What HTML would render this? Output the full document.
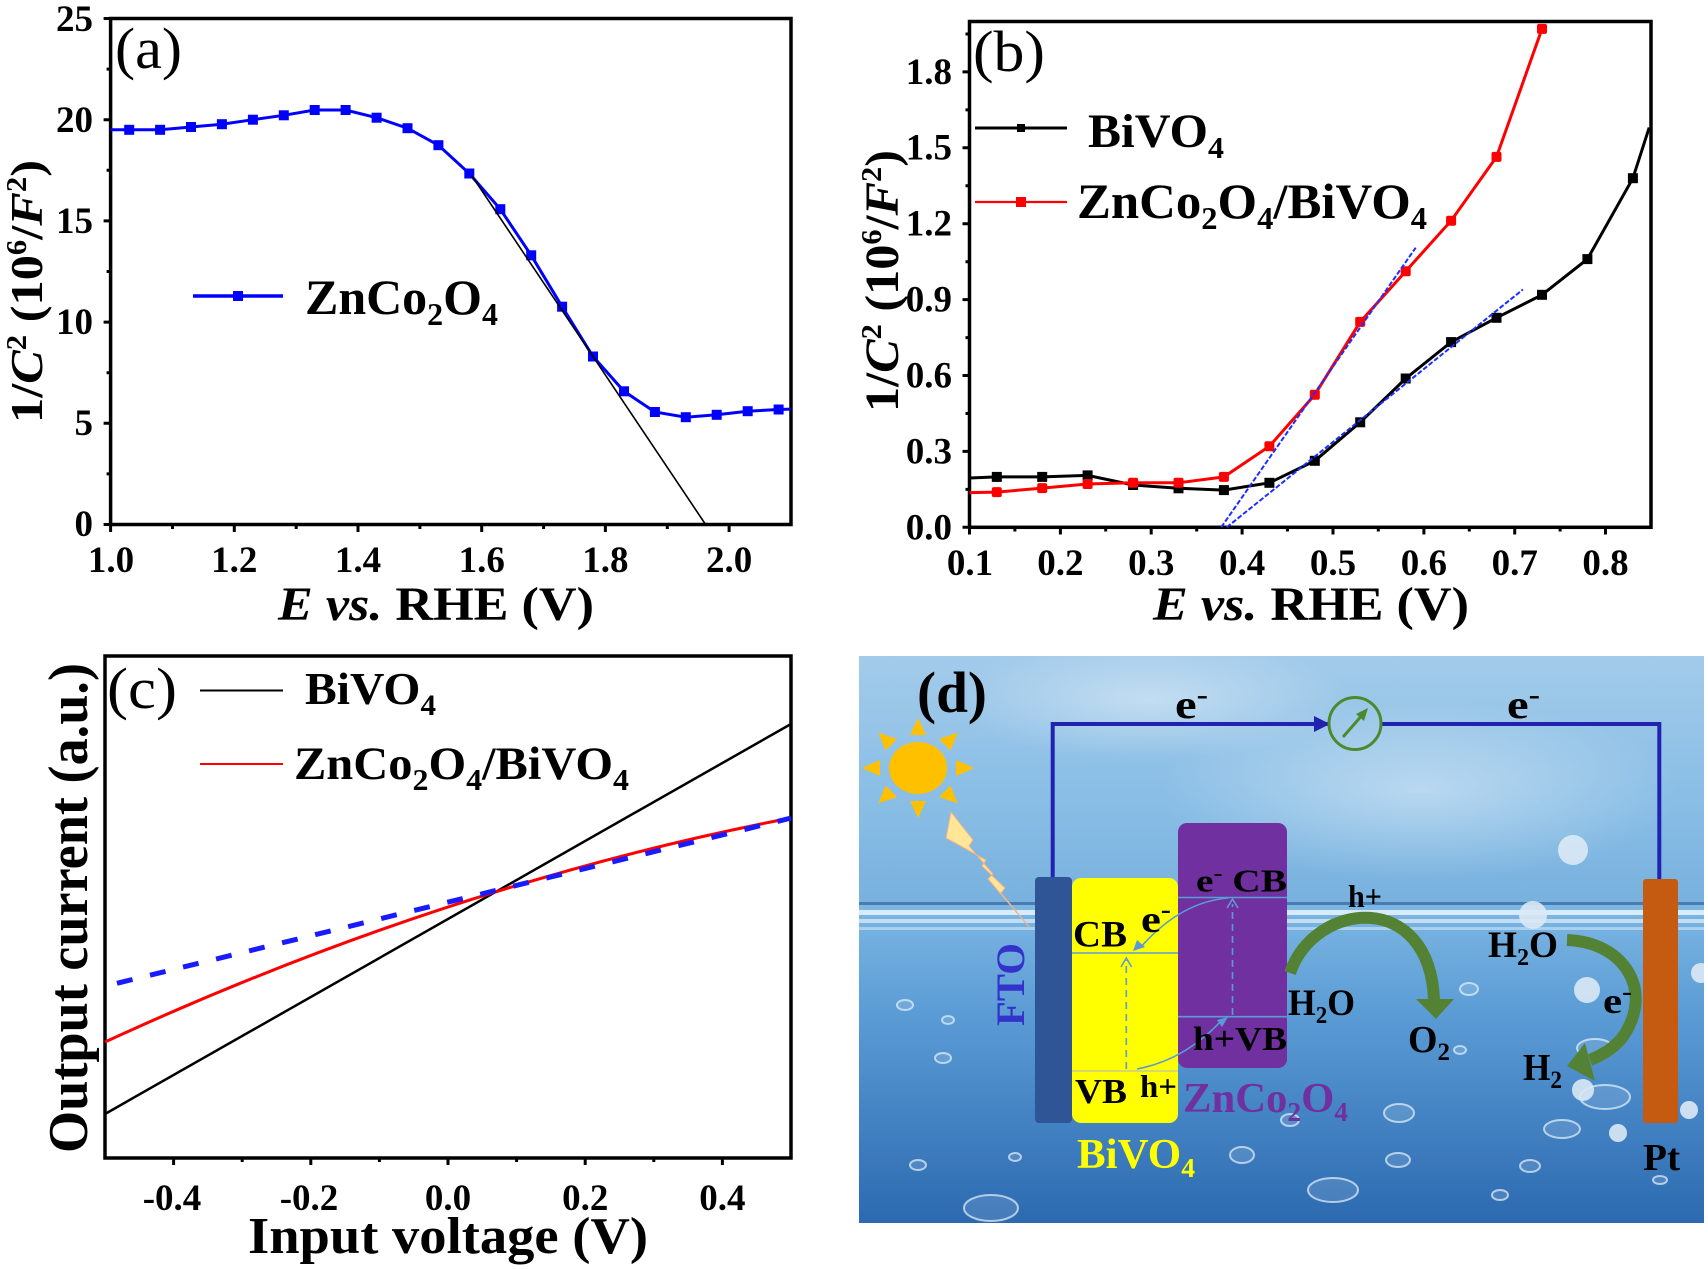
<!DOCTYPE html>
<html><head><meta charset="utf-8"><style>
html,body{margin:0;padding:0;background:#fff;}
svg{display:block;}
</style></head><body>
<svg width="1708" height="1270" viewBox="0 0 1708 1270" xmlns="http://www.w3.org/2000/svg" font-family="'Liberation Serif', serif" font-weight="bold">
<defs>
  <linearGradient id="sky" x1="0" y1="0" x2="0" y2="1">
    <stop offset="0" stop-color="#a3cbea"/>
    <stop offset="0.6" stop-color="#88bde5"/>
    <stop offset="1" stop-color="#78b1de"/>
  </linearGradient>
  <linearGradient id="water" x1="0" y1="0" x2="0" y2="1">
    <stop offset="0" stop-color="#7db7e3"/>
    <stop offset="0.35" stop-color="#5a9bd5"/>
    <stop offset="1" stop-color="#2c69b0"/>
  </linearGradient>
  <radialGradient id="glow" cx="0.5" cy="0.5" r="0.5">
    <stop offset="0" stop-color="#ffffff" stop-opacity="0.4"/>
    <stop offset="1" stop-color="#ffffff" stop-opacity="0"/>
  </radialGradient>
  <clipPath id="dclip"><rect x="859" y="656" width="845" height="567"/></clipPath>
</defs>
<rect width="1708" height="1270" fill="#fff"/>

<!-- ================= PANEL (a) ================= -->
<rect x="110.6" y="18.5" width="680.4" height="506" fill="none" stroke="#000" stroke-width="3.5"/>
<path d="M103.6,524.5H110.6 M106.6,473.9H110.6 M103.6,423.3H110.6 M106.6,372.7H110.6 M103.6,322.1H110.6 M106.6,271.5H110.6 M103.6,220.9H110.6 M106.6,170.3H110.6 M103.6,119.7H110.6 M106.6,69.1H110.6 M103.6,18.5H110.6
M110.6,524.5V532 M172.5,524.5V529 M234.3,524.5V532 M296.2,524.5V529 M358,524.5V532 M419.9,524.5V529 M481.7,524.5V532 M543.6,524.5V529 M605.4,524.5V532 M667.3,524.5V529 M729.1,524.5V532" stroke="#000" stroke-width="3" fill="none"/>
<g font-size="37" text-anchor="end">
  <text x="93" y="536">0</text>
  <text x="93" y="435">5</text>
  <text x="93" y="334">10</text>
  <text x="93" y="233">15</text>
  <text x="93" y="132">20</text>
  <text x="93" y="31">25</text>
</g>
<g font-size="37" text-anchor="middle">
  <text x="111" y="572">1.0</text>
  <text x="234.3" y="572">1.2</text>
  <text x="358" y="572">1.4</text>
  <text x="481.7" y="572">1.6</text>
  <text x="605.4" y="572">1.8</text>
  <text x="729.1" y="572">2.0</text>
</g>
<text x="278" y="620" font-size="48" textLength="316" lengthAdjust="spacingAndGlyphs"><tspan font-style="italic">E vs.</tspan> RHE (V)</text>
<text transform="translate(42,423) rotate(-90)" font-size="46" textLength="263" lengthAdjust="spacingAndGlyphs">1/<tspan font-style="italic">C</tspan><tspan font-size="28" dy="-16">2</tspan><tspan dy="16"> (10</tspan><tspan font-size="28" dy="-16">6</tspan><tspan dy="16">/</tspan><tspan font-style="italic">F</tspan><tspan font-size="28" dy="-16">2</tspan><tspan dy="16">)</tspan></text>
<text x="115" y="68" font-size="58" font-weight="normal" textLength="67" lengthAdjust="spacingAndGlyphs">(a)</text>
<!-- legend a -->
<line x1="193" y1="296" x2="283" y2="296" stroke="#0000ff" stroke-width="3.5"/>
<rect x="233" y="291" width="10" height="10" fill="#0000ff"/>
<text x="305" y="314" font-size="50" textLength="193" lengthAdjust="spacingAndGlyphs">ZnCo<tspan font-size="32" dy="11">2</tspan><tspan dy="-11">O</tspan><tspan font-size="32" dy="11">4</tspan></text>
<!-- data a -->
<polyline fill="none" stroke="#0000ff" stroke-width="3" points="110.6,129.8 129.2,129.8 160.1,129.8 191.0,127.0 221.9,124.2 252.9,119.7 283.8,115.3 314.7,110.0 345.6,110.0 376.6,117.7 407.5,128.2 438.4,145.2 469.3,173.5 500.3,209.2 531.2,255.3 562.1,306.7 593.0,356.5 624.0,391.3 654.9,412.0 685.8,417.2 716.7,414.8 747.7,411.2 778.6,409.5 791,409.1"/>
<g fill="#0000ff">
<rect x="124.2" y="124.8" width="10" height="10"/><rect x="155.1" y="124.8" width="10" height="10"/><rect x="186" y="122" width="10" height="10"/><rect x="216.9" y="119.2" width="10" height="10"/><rect x="247.9" y="114.7" width="10" height="10"/><rect x="278.8" y="110.3" width="10" height="10"/><rect x="309.7" y="105" width="10" height="10"/><rect x="340.6" y="105" width="10" height="10"/><rect x="371.6" y="112.7" width="10" height="10"/><rect x="402.5" y="123.2" width="10" height="10"/><rect x="433.4" y="140.2" width="10" height="10"/><rect x="464.3" y="168.5" width="10" height="10"/><rect x="495.3" y="204.2" width="10" height="10"/><rect x="526.2" y="250.3" width="10" height="10"/><rect x="557.1" y="301.7" width="10" height="10"/><rect x="588" y="351.5" width="10" height="10"/><rect x="619" y="386.3" width="10" height="10"/><rect x="649.9" y="407" width="10" height="10"/><rect x="680.8" y="412.2" width="10" height="10"/><rect x="711.7" y="409.8" width="10" height="10"/><rect x="742.7" y="406.2" width="10" height="10"/><rect x="773.6" y="404.5" width="10" height="10"/>
</g>
<line x1="472" y1="176" x2="705.6" y2="524.5" stroke="#000" stroke-width="1.6"/>

<!-- ================= PANEL (b) ================= -->
<rect x="969.5" y="21.5" width="681.5" height="505.8" fill="none" stroke="#000" stroke-width="3.5"/>
<path d="M962.5,527.3H969.5 M965.5,489.4H969.5 M962.5,451.4H969.5 M965.5,413.5H969.5 M962.5,375.5H969.5 M965.5,337.6H969.5 M962.5,299.6H969.5 M965.5,261.7H969.5 M962.5,223.7H969.5 M965.5,185.8H969.5 M962.5,147.8H969.5 M965.5,109.9H969.5 M962.5,71.9H969.5 M965.5,34H969.5
M969.5,527.3V534.5 M1014.9,527.3V531.5 M1060.4,527.3V534.5 M1105.7,527.3V531.5 M1151.2,527.3V534.5 M1196.7,527.3V531.5 M1242.1,527.3V534.5 M1287.5,527.3V531.5 M1333,527.3V534.5 M1378.3,527.3V531.5 M1423.9,527.3V534.5 M1469.3,527.3V531.5 M1514.7,527.3V534.5 M1560.1,527.3V531.5 M1605.5,527.3V534.5" stroke="#000" stroke-width="3" fill="none"/>
<g font-size="37" text-anchor="end">
  <text x="952" y="539.5">0.0</text>
  <text x="952" y="463.5">0.3</text>
  <text x="952" y="387.5">0.6</text>
  <text x="952" y="311.5">0.9</text>
  <text x="952" y="235.5">1.2</text>
  <text x="952" y="159.5">1.5</text>
  <text x="952" y="84">1.8</text>
</g>
<g font-size="37" text-anchor="middle">
  <text x="970" y="575">0.1</text>
  <text x="1060.4" y="575">0.2</text>
  <text x="1151.2" y="575">0.3</text>
  <text x="1242.1" y="575">0.4</text>
  <text x="1333" y="575">0.5</text>
  <text x="1423.9" y="575">0.6</text>
  <text x="1514.7" y="575">0.7</text>
  <text x="1605.5" y="575">0.8</text>
</g>
<text x="1153" y="620" font-size="48" textLength="316" lengthAdjust="spacingAndGlyphs"><tspan font-style="italic">E vs.</tspan> RHE (V)</text>
<text transform="translate(898,412) rotate(-90)" font-size="48" textLength="262" lengthAdjust="spacingAndGlyphs">1/<tspan font-style="italic">C</tspan><tspan font-size="29" dy="-17">2</tspan><tspan dy="17"> (10</tspan><tspan font-size="29" dy="-17">6</tspan><tspan dy="17">/</tspan><tspan font-style="italic">F</tspan><tspan font-size="29" dy="-17">2</tspan><tspan dy="17">)</tspan></text>
<text x="973" y="71" font-size="58" font-weight="normal" textLength="72" lengthAdjust="spacingAndGlyphs">(b)</text>
<!-- legend b -->
<line x1="975" y1="128" x2="1067" y2="128" stroke="#000" stroke-width="3"/>
<rect x="1017" y="124" width="8" height="8" fill="#000"/>
<text x="1088" y="147" font-size="48" textLength="136" lengthAdjust="spacingAndGlyphs">BiVO<tspan font-size="31" dy="11">4</tspan></text>
<line x1="975" y1="202" x2="1067" y2="202" stroke="#ff0000" stroke-width="2.2"/>
<rect x="1016" y="197" width="10" height="10" fill="#ff0000"/>
<text x="1077" y="218" font-size="50" textLength="350" lengthAdjust="spacingAndGlyphs">ZnCo<tspan font-size="32" dy="11">2</tspan><tspan dy="-11">O</tspan><tspan font-size="32" dy="11">4</tspan><tspan dy="-11">/BiVO</tspan><tspan font-size="32" dy="11">4</tspan></text>
<!-- data b -->
<polyline fill="none" stroke="#000" stroke-width="3" points="969.5,478 996.8,476.9 1042.2,476.9 1087.6,475.4 1133.1,485 1178.5,488.3 1223.9,490.1 1269.4,482.8 1314.8,460.8 1360.2,422.3 1405.7,378.5 1451.1,342.1 1496.5,317.8 1542,294.8 1587.4,259.1 1632.9,178.2 1649.2,127.6"/>
<g fill="#000">
<rect x="991.8" y="471.9" width="10" height="10"/><rect x="1037.2" y="471.9" width="10" height="10"/><rect x="1082.6" y="470.4" width="10" height="10"/><rect x="1128.1" y="480" width="10" height="10"/><rect x="1173.5" y="483.3" width="10" height="10"/><rect x="1218.9" y="485.1" width="10" height="10"/><rect x="1264.4" y="477.8" width="10" height="10"/><rect x="1309.8" y="455.8" width="10" height="10"/><rect x="1355.2" y="417.3" width="10" height="10"/><rect x="1400.7" y="373.5" width="10" height="10"/><rect x="1446.1" y="337.1" width="10" height="10"/><rect x="1491.5" y="312.8" width="10" height="10"/><rect x="1537" y="289.8" width="10" height="10"/><rect x="1582.4" y="254.1" width="10" height="10"/><rect x="1627.9" y="173.2" width="10" height="10"/>
</g>
<polyline fill="none" stroke="#ff0000" stroke-width="3" points="969.5,492.6 996.8,492.1 1042.2,488.1 1087.6,484 1133.1,482.8 1178.5,482.8 1223.9,476.9 1269.4,446.3 1314.8,394.7 1360.2,321.9 1405.7,271.3 1451.1,220.7 1496.5,156.9 1542,28.9"/>
<g fill="#ff0000">
<rect x="991.8" y="487.1" width="10" height="10" rx="2"/><rect x="1037.2" y="483.1" width="10" height="10" rx="2"/><rect x="1082.6" y="479" width="10" height="10" rx="2"/><rect x="1128.1" y="477.8" width="10" height="10" rx="2"/><rect x="1173.5" y="477.8" width="10" height="10" rx="2"/><rect x="1218.9" y="471.9" width="10" height="10" rx="2"/><rect x="1264.4" y="441.3" width="10" height="10" rx="2"/><rect x="1309.8" y="389.7" width="10" height="10" rx="2"/><rect x="1355.2" y="316.9" width="10" height="10" rx="2"/><rect x="1400.7" y="266.3" width="10" height="10" rx="2"/><rect x="1446.1" y="215.7" width="10" height="10" rx="2"/><rect x="1491.5" y="151.9" width="10" height="10" rx="2"/><rect x="1537" y="23.9" width="10" height="10" rx="2"/>
</g>
<g stroke="#1a2fff" stroke-width="2" stroke-dasharray="5 2" fill="none">
<line x1="1221.2" y1="527.3" x2="1415.7" y2="247.7"/>
<line x1="1226.7" y1="527.3" x2="1522.9" y2="289.5"/>
</g>

<!-- ================= PANEL (c) ================= -->
<rect x="105" y="656" width="686" height="502" fill="none" stroke="#000" stroke-width="3.5"/>
<path d="M173.6,1158V1165 M242.2,1158V1162 M310.8,1158V1165 M379.4,1158V1162 M448,1158V1165 M516.6,1158V1162 M585.2,1158V1165 M653.8,1158V1162 M722.4,1158V1165" stroke="#000" stroke-width="3" fill="none"/>
<g font-size="37" text-anchor="middle">
  <text x="172" y="1210">-0.4</text>
  <text x="309" y="1210">-0.2</text>
  <text x="448" y="1210">0.0</text>
  <text x="585.2" y="1210">0.2</text>
  <text x="722.4" y="1210">0.4</text>
</g>
<text x="248" y="1253" font-size="52" textLength="400" lengthAdjust="spacingAndGlyphs">Input voltage (V)</text>
<text transform="translate(87,1153) rotate(-90)" font-size="56" textLength="490" lengthAdjust="spacingAndGlyphs">Output current (a.u.)</text>
<text x="107" y="708" font-size="58" font-weight="normal" textLength="70" lengthAdjust="spacingAndGlyphs">(c)</text>
<line x1="200" y1="690.5" x2="283" y2="690.5" stroke="#000" stroke-width="2"/>
<text x="305" y="704" font-size="46" textLength="131" lengthAdjust="spacingAndGlyphs">BiVO<tspan font-size="30" dy="11">4</tspan></text>
<line x1="200" y1="764" x2="283" y2="764" stroke="#ff0000" stroke-width="2"/>
<text x="294" y="779" font-size="47" textLength="335" lengthAdjust="spacingAndGlyphs">ZnCo<tspan font-size="31" dy="11">2</tspan><tspan dy="-11">O</tspan><tspan font-size="31" dy="11">4</tspan><tspan dy="-11">/BiVO</tspan><tspan font-size="31" dy="11">4</tspan></text>
<line x1="105" y1="1114" x2="791" y2="724" stroke="#000" stroke-width="2.5"/>
<path d="M105,1042 Q448,884 791,818" fill="none" stroke="#ff0000" stroke-width="3"/>
<line x1="117" y1="983.3" x2="791" y2="818.1" stroke="#1a1aff" stroke-width="5" stroke-dasharray="16 18"/>

<!-- ================= PANEL (d) ================= -->
<g clip-path="url(#dclip)">
  <rect x="859" y="656" width="845" height="250" fill="url(#sky)"/>
  <ellipse cx="1420" cy="790" rx="260" ry="90" fill="url(#glow)"/>
  <ellipse cx="1150" cy="700" rx="200" ry="60" fill="url(#glow)"/>
  <rect x="859" y="905" width="845" height="320" fill="url(#water)"/>
  <rect x="859" y="902" width="845" height="3" fill="#3d6fa6" opacity="0.8"/>
  <rect x="859" y="910" width="845" height="5" fill="#e9f5fd" opacity="0.85"/>
  <rect x="859" y="919" width="845" height="4" fill="#e9f5fd" opacity="0.65"/>
  <rect x="859" y="927" width="845" height="3" fill="#dff0fb" opacity="0.5"/>
  <!-- water drops -->
  <g fill="#ffffff" fill-opacity="0.12" stroke="#e6f2fb" stroke-opacity="0.7" stroke-width="2">
    <ellipse cx="991" cy="1208" rx="27" ry="13"/>
    <ellipse cx="1242" cy="1155" rx="12" ry="8"/>
    <ellipse cx="1333" cy="1190" rx="25" ry="12"/>
    <ellipse cx="1399" cy="1113" rx="15" ry="9"/>
    <ellipse cx="1469" cy="989" rx="9" ry="6"/>
    <ellipse cx="1398" cy="1160" rx="12" ry="7"/>
    <ellipse cx="1605" cy="1097" rx="25" ry="12"/>
    <ellipse cx="1562" cy="1129" rx="18" ry="9"/>
    <ellipse cx="1595" cy="1048" rx="18" ry="9"/>
    <ellipse cx="1530" cy="1166" rx="10" ry="6"/>
    <ellipse cx="943" cy="1058" rx="8" ry="5"/>
    <ellipse cx="918" cy="1165" rx="8" ry="5"/>
    <ellipse cx="1015" cy="1157" rx="6" ry="4"/>
    <ellipse cx="905" cy="1005" rx="8" ry="5"/>
    <ellipse cx="948" cy="1020" rx="6" ry="4"/>
    <ellipse cx="1290" cy="1120" rx="9" ry="6"/>
    <ellipse cx="1460" cy="1050" rx="6" ry="4"/>
    <ellipse cx="1500" cy="1195" rx="8" ry="5"/>
    <ellipse cx="1660" cy="1180" rx="7" ry="4"/>
  </g>
  <g fill="#dbe9f5" opacity="0.9">
    <circle cx="1573" cy="850" r="15"/>
    <circle cx="1533" cy="915" r="14"/>
    <circle cx="1587" cy="990" r="13"/>
    <circle cx="1583" cy="1090" r="11"/>
    <circle cx="1618" cy="1133" r="9"/>
    <circle cx="1689" cy="1110" r="9"/>
    <circle cx="1701" cy="973" r="10"/>
  </g>
  <!-- sun -->
  <g fill="#FFC000">
    <ellipse cx="918" cy="768" rx="29" ry="26"/>
    <polygon points="974,768 956,760 956,776"/>
    <polygon points="862,768 880,760 880,776"/>
    <polygon points="918,818 910,801 926,801"/>
    <polygon points="918,718 910,735 926,735"/>
    <polygon points="957.7,803.4 939,797 950.4,785.6"/>
    <polygon points="878.3,803.4 897,797 885.6,785.6"/>
    <polygon points="878.3,732.6 885.6,750.4 897,739"/>
    <polygon points="957.7,732.6 939,739 950.4,750.4"/>
  </g>
  <polygon points="951,812 973,840 969,846 993,874 988,879 1030,928 1001,893 1005,888 982,866 986,860 946,838" fill="#FFE699" stroke="#F4B183" stroke-width="1"/>
  <!-- circuit -->
  <path d="M1052.7,878 V724 H1329 M1381,724 H1659.3 V879" fill="none" stroke="#2222b0" stroke-width="4"/>
  <polygon points="1314,716 1330,724 1314,732" fill="#2222b0"/>
  <circle cx="1355" cy="723.5" r="26" fill="none" stroke="#4d8a2e" stroke-width="3"/>
  <line x1="1343" y1="737" x2="1364" y2="713" stroke="#4d8a2e" stroke-width="3"/>
  <polygon points="1368,708 1356,714 1364,721" fill="#4d8a2e"/>
  <text x="1175" y="718" font-size="40" textLength="33" lengthAdjust="spacingAndGlyphs">e<tspan dy="-14" font-size="28">-</tspan></text>
  <text x="1507" y="718" font-size="40" textLength="33" lengthAdjust="spacingAndGlyphs">e<tspan dy="-14" font-size="28">-</tspan></text>
  <!-- electrodes -->
  <rect x="1035" y="877" width="37" height="246" rx="4" fill="#2F5597"/>
  <rect x="1072" y="878" width="106" height="245" rx="9" fill="#FFFF00"/>
  <rect x="1178" y="823" width="109" height="245" rx="9" fill="#7030A0"/>
  <rect x="1643" y="879" width="35" height="244" rx="3" fill="#C55A11"/>
  <text transform="translate(1024,1026) rotate(-90)" font-size="40" fill="#3333cc" textLength="83" lengthAdjust="spacingAndGlyphs">FTO</text>
  <!-- band lines -->
  <g stroke="#5B9BD5" stroke-width="1.6" fill="none">
    <line x1="1072" y1="953" x2="1178" y2="953"/>
    <line x1="1178" y1="897.5" x2="1287" y2="897.5"/>
    <line x1="1178" y1="1016.7" x2="1287" y2="1016.7"/>
    <line x1="1126.3" y1="1069" x2="1126.3" y2="960" stroke-dasharray="7 5"/>
    <line x1="1232.5" y1="1015" x2="1232.5" y2="904" stroke-dasharray="7 5"/>
    <polyline points="1121,967 1126.3,958 1131.6,967"/>
    <polyline points="1227,908 1232.5,899 1238,908"/>
    <path d="M1228,898 Q1180,902 1140,948"/>
    <path d="M1137,1069 Q1185,1060 1222,1020"/>
  </g>
  <line x1="1072" y1="1071" x2="1178" y2="1071" stroke="#d8d86a" stroke-width="2"/>
  <polygon points="1133,951 1137,940 1145,947" fill="#5B9BD5"/>
  <polygon points="1228,1017 1217,1020 1222,1027" fill="#5B9BD5"/>
  <!-- labels in bands -->
  <text x="1073" y="946.7" font-size="37" textLength="54" lengthAdjust="spacingAndGlyphs">CB</text>
  <text x="1141" y="932" font-size="38" textLength="30" lengthAdjust="spacingAndGlyphs">e<tspan dy="-14" font-size="26">-</tspan></text>
  <text x="1196" y="891.7" font-size="32" textLength="91" lengthAdjust="spacingAndGlyphs">e<tspan dy="-11" font-size="22">-</tspan><tspan dy="11"> CB</tspan></text>
  <text x="1193" y="1050" font-size="34" textLength="94" lengthAdjust="spacingAndGlyphs">h+VB</text>
  <text x="1075" y="1103" font-size="35" textLength="52" lengthAdjust="spacingAndGlyphs">VB</text>
  <text x="1140" y="1097" font-size="32" textLength="37" lengthAdjust="spacingAndGlyphs">h+</text>
  <text x="1183" y="1112" font-size="42" fill="#7030A0" textLength="165" lengthAdjust="spacingAndGlyphs">ZnCo<tspan font-size="27" dy="9">2</tspan><tspan dy="-9">O</tspan><tspan font-size="27" dy="9">4</tspan></text>
  <text x="1077" y="1168" font-size="42" fill="#FFFF00" textLength="118" lengthAdjust="spacingAndGlyphs">BiVO<tspan font-size="27" dy="9">4</tspan></text>
  <!-- green arrows -->
  <path d="M1290,973 C1315,900 1430,890 1434,1000" fill="none" stroke="#548235" stroke-width="12"/>
  <polygon points="1416,999 1454,999 1436,1019" fill="#548235"/>
  <path d="M1567,940 C1625,942 1655,992 1622,1038 C1612,1050 1600,1056 1590,1060" fill="none" stroke="#548235" stroke-width="12"/>
  <polygon points="1567,1066 1585,1043 1595,1081" fill="#548235"/>
  <text x="1348" y="907" font-size="32" textLength="34" lengthAdjust="spacingAndGlyphs">h+</text>
  <text x="1288" y="1015" font-size="37" textLength="67" lengthAdjust="spacingAndGlyphs">H<tspan font-size="24" dy="8">2</tspan><tspan dy="-8">O</tspan></text>
  <text x="1408" y="1052" font-size="38" textLength="42" lengthAdjust="spacingAndGlyphs">O<tspan font-size="25" dy="8">2</tspan></text>
  <text x="1488" y="957" font-size="37" textLength="70" lengthAdjust="spacingAndGlyphs">H<tspan font-size="24" dy="8">2</tspan><tspan dy="-8">O</tspan></text>
  <text x="1603" y="1013" font-size="36" textLength="29" lengthAdjust="spacingAndGlyphs">e<tspan dy="-13" font-size="25">-</tspan></text>
  <text x="1523" y="1080" font-size="38" textLength="39" lengthAdjust="spacingAndGlyphs">H<tspan font-size="25" dy="8">2</tspan></text>
  <text x="1643" y="1170" font-size="38" textLength="37" lengthAdjust="spacingAndGlyphs">Pt</text>
  <text x="917" y="712" font-size="58" textLength="70" lengthAdjust="spacingAndGlyphs">(d)</text>
</g>
</svg>
</body></html>
